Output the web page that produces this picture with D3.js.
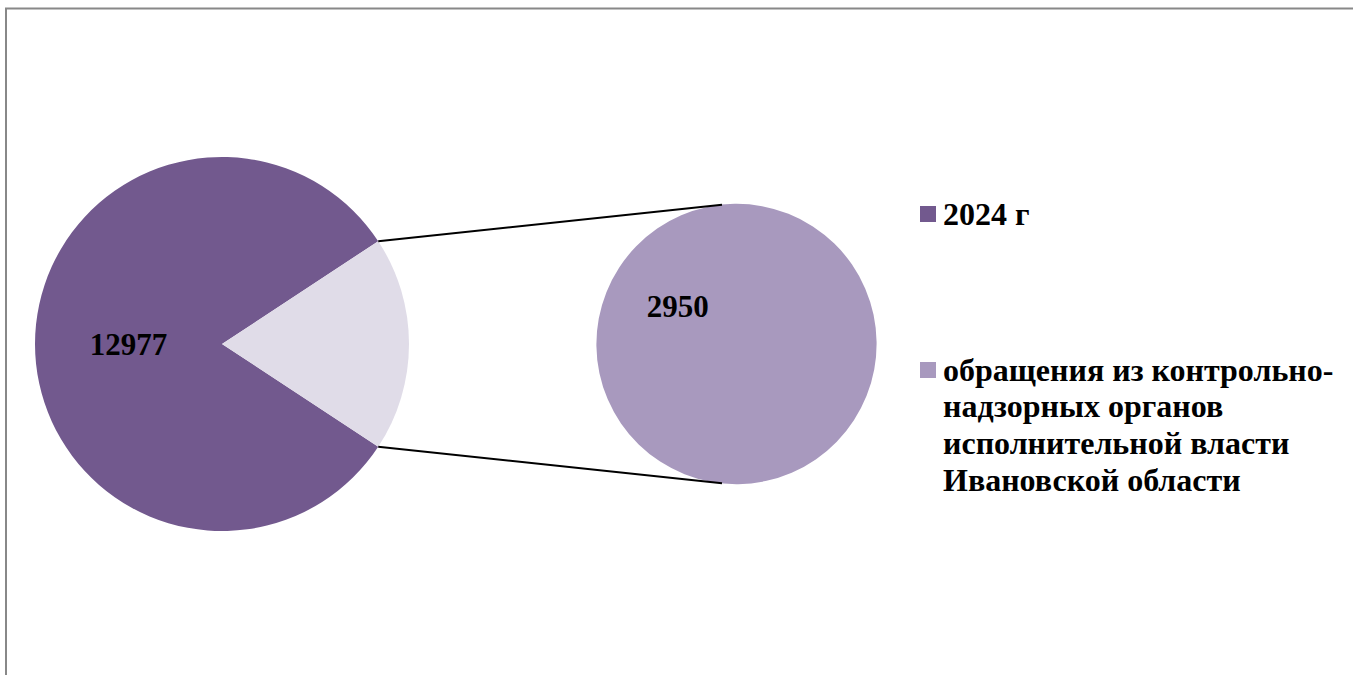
<!DOCTYPE html>
<html>
<head>
<meta charset="utf-8">
<style>
  body { margin: 0; background: #fff; }
  svg { display: block; }
  .lbl { font-family: "Liberation Serif", "Times New Roman", serif; font-weight: bold; font-size: 31px; fill: #000; }
  .leg { font-size: 32px; }
</style>
</head>
<body>
<div id="chart"></div>
<script src="https://d3js.org/d3.v7.min.js"></script>
<script>
  // Data
  const mainValues = [12977, 2950];
  const mainColors = ['#72598e', '#e0dce8'];
  const secondValues = [2950];
  const secondColor = '#a899be';
  const legendLabels = [
    ['2024 г'],
    ['обращения из контрольно-', 'надзорных органов', 'исполнительной власти', 'Ивановской области']
  ];
  const legendColors = ['#72598e', '#a899be'];

  const width = 1353;
  const height = 675;

  const svg = d3.select('#chart')
    .append('svg')
    .attr('width', width)
    .attr('height', height);

  // outer frame (cut off at right and bottom)
  svg.append('rect')
    .attr('x', 6).attr('y', 8.5)
    .attr('width', 1400).attr('height', 700)
    .attr('fill', 'none')
    .attr('stroke', '#888')
    .attr('stroke-width', 2);

  // main pie
  const mainR = 187;
  const mainCx = 222, mainCy = 344;
  const total = d3.sum(mainValues);
  const theta = 2 * Math.PI * mainValues[1] / total;
  const offset = Math.PI / 2 + theta / 2;

  const pie = d3.pie().sort(null).value((d) => d)
    .startAngle(offset).endAngle(offset + 2 * Math.PI);
  const arc = d3.arc().innerRadius(0).outerRadius(mainR);

  const mainG = svg.append('g')
    .attr('transform', `translate(${mainCx}, ${mainCy})`);
  const mainArcs = pie(mainValues);

  mainG.selectAll('path')
    .data(mainArcs)
    .enter()
    .append('path')
    .attr('d', arc)
    .attr('fill', (d, i) => mainColors[i]);

  mainG.append('text')
    .attr('class', 'lbl')
    .attr('transform', `translate(${arc.centroid(mainArcs[0])})`)
    .attr('text-anchor', 'middle')
    .attr('dy', '0.37em')
    .text(mainValues[0]);

  // second pie
  const secR = 140;
  const secCx = 736.5, secCy = 344;
  const labelAngle = -57 * Math.PI / 180;
  const pie2 = d3.pie().sort(null).value((d) => d)
    .startAngle(labelAngle - Math.PI).endAngle(labelAngle + Math.PI);
  const arc2 = d3.arc().innerRadius(0).outerRadius(secR);
  const secArcs = pie2(secondValues);

  const secG = svg.append('g')
    .attr('transform', `translate(${secCx}, ${secCy})`);
  secG.selectAll('path')
    .data(secArcs)
    .enter()
    .append('path')
    .attr('d', arc2)
    .attr('fill', secondColor);

  secG.append('text')
    .attr('class', 'lbl')
    .attr('transform', `translate(${arc2.centroid(secArcs[0])})`)
    .attr('text-anchor', 'middle')
    .attr('dy', '0.37em')
    .text(secondValues[0]);

  // connector lines from the broken-out slice to the second pie
  const sl = mainArcs[1];
  const pt = (cx, cy, r, a) => [cx + r * Math.sin(a), cy - r * Math.cos(a)];
  const tip = Math.asin(14.5 / secR);
  const connectors = [
    [pt(mainCx, mainCy, mainR, sl.startAngle), pt(secCx, secCy, secR, -tip)],
    [pt(mainCx, mainCy, mainR, sl.endAngle), pt(secCx, secCy, secR, Math.PI + tip)]
  ];
  svg.selectAll('line.conn')
    .data(connectors)
    .enter()
    .append('line')
    .attr('class', 'conn')
    .attr('x1', (d) => d[0][0]).attr('y1', (d) => d[0][1])
    .attr('x2', (d) => d[1][0]).attr('y2', (d) => d[1][1])
    .attr('stroke', '#000')
    .attr('stroke-width', 2);

  // legend
  const legendX = 920;
  const legendTops = [206, 362];
  const lineH = 36.7;
  legendLabels.forEach((lines, i) => {
    const g = svg.append('g');
    g.append('rect')
      .attr('x', legendX).attr('y', legendTops[i])
      .attr('width', 16).attr('height', 16)
      .attr('fill', legendColors[i]);
    const t = g.append('text')
      .attr('class', 'lbl leg')
      .attr('x', legendX + 23)
      .attr('y', legendTops[i] + 18.5);
    lines.forEach((s, j) => {
      t.append('tspan')
        .attr('x', legendX + 23)
        .attr('dy', j === 0 ? 0 : lineH)
        .text(s);
    });
  });
</script>
</body>
</html>
